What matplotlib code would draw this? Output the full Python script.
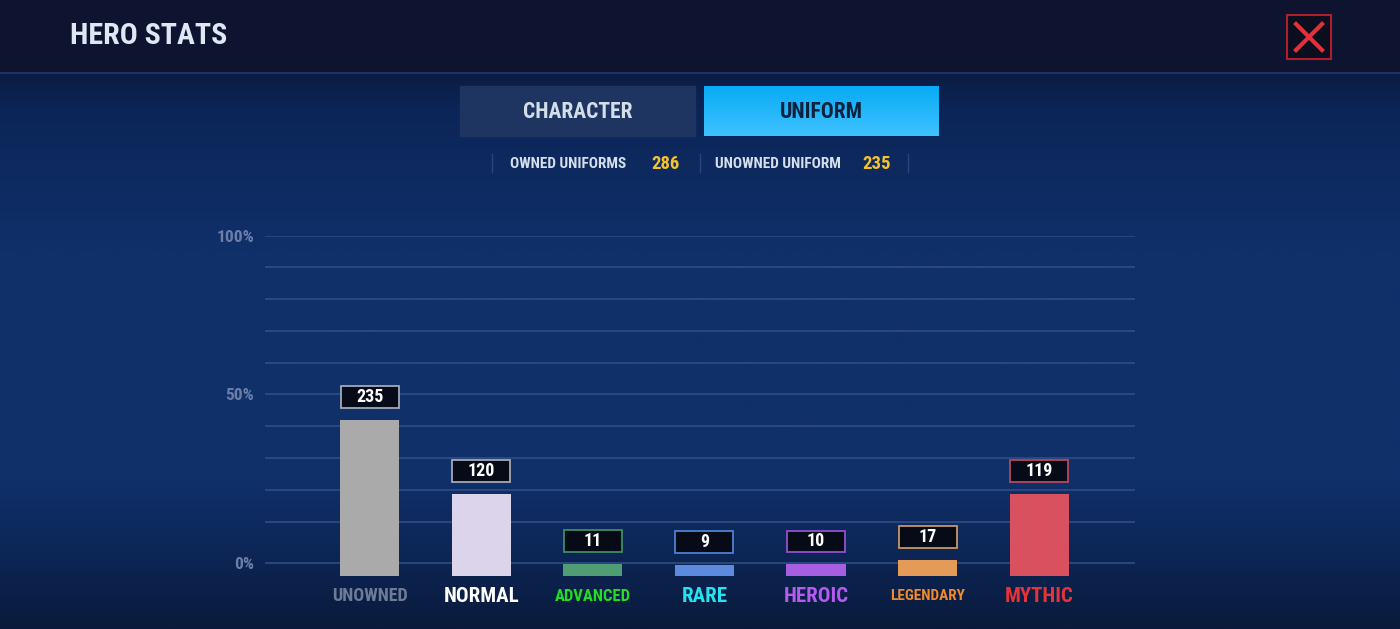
import numpy as np
import matplotlib
matplotlib.use('Agg')
import matplotlib.pyplot as plt
from matplotlib import font_manager
from matplotlib.patches import Rectangle

# data
categories = ['UNOWNED', 'NORMAL', 'ADVANCED', 'RARE', 'HEROIC', 'LEGENDARY', 'MYTHIC']
counts = [235, 120, 11, 9, 10, 17, 119]
owned_uniforms = 286
unowned_uniform = 235
y_tick_labels = ['100%', '50%', '0%']

bar_colors = ['#aaaaaa', '#dcd4ea', '#4f9e73', '#5b8ade', '#a85ee2', '#e39b57', '#d9505f']
box_edges = ['#a3a9b6', '#a3a9b6', '#3f8c66', '#4f80d0', '#9350d0', '#c89660', '#b8485c']
label_colors = ['#6d7b97', '#ffffff', '#22dd22', '#25e2f0', '#b65af2', '#f08a2c', '#e8323a']
label_sizes = [13, 15, 12, 15, 15, 11, 15]

names = {f.name for f in font_manager.fontManager.ttflist}
FONT = 'Roboto Condensed' if 'Roboto Condensed' in names else 'Roboto'
plt.rcParams['font.family'] = [FONT, 'DejaVu Sans']

W, H = 1400, 629
fig = plt.figure(figsize=(14, 6.29), dpi=100)

# background / UI chrome (pixel coords)
bg = fig.add_axes([0, 0, 1, 1])
bg.set_xlim(0, W)
bg.set_ylim(H, 0)
bg.axis('off')
stops_y = [72, 110, 250, 480, 560, 629]
stops_c = ['#0a1c44', '#0c2557', '#10306a', '#10306a', '#0c2554', '#0a1a3a']
ys = np.linspace(72, 629, 400)
rgb = np.array([matplotlib.colors.to_rgb(c) for c in stops_c])
grad = np.stack([np.interp(ys, stops_y, rgb[:, i]) for i in range(3)], axis=-1)
bg.imshow(grad[:, None, :], extent=(0, W, 629, 72), aspect='auto', zorder=0)
bg.add_patch(Rectangle((0, 0), W, 72, color='#0e1430', zorder=1))
bg.plot([0, W], [72.5, 72.5], color='#1c3567', lw=1.5, zorder=2)

fig.text(70 / W, 1 - 36 / H, 'HERO STATS', color='#dde8f5', fontsize=21.5,
         fontweight='bold', ha='left', va='center')

# close button
bg.add_patch(Rectangle((1287, 15), 44, 44, facecolor='#0a0e1e', edgecolor='#b01e2c', lw=1.5, zorder=2))
bg.plot([1296, 1322], [24, 50], color='#e4303a', lw=3, zorder=3)
bg.plot([1296, 1322], [50, 24], color='#e4303a', lw=3, zorder=3)

# tabs
bg.add_patch(Rectangle((460, 86), 235, 50, color='#1e3562', zorder=2))
bg.text(577.5, 112.5, 'CHARACTER', color='#d3deeb', fontsize=15.5, fontweight='bold',
        ha='center', va='center', zorder=3)
tab_grad = np.linspace(0, 1, 50)[:, None, None] * (np.array([0.25, 0.76, 1.0]) - np.array([0.03, 0.67, 0.96])) + np.array([0.03, 0.67, 0.96])
bg.imshow(tab_grad, extent=(704, 939, 136, 86), aspect='auto', zorder=2)
bg.text(821.5, 112.5, 'UNIFORM', color='#0b2140', fontsize=15.5, fontweight='bold',
        ha='center', va='center', zorder=3)

# stats row
for sx in [492, 700, 908]:
    bg.plot([sx, sx], [154, 172], color='#2d4574', lw=1, zorder=2)
bg.text(568, 164, 'OWNED UNIFORMS', color='#d6e0ec', fontsize=11, fontweight='bold',
        ha='center', va='center')
bg.text(666, 164, str(owned_uniforms), color='#f4c22e', fontsize=13.5, fontweight='bold',
        ha='center', va='center')
bg.text(778, 164, 'UNOWNED UNIFORM', color='#d6e0ec', fontsize=11, fontweight='bold',
        ha='center', va='center')
bg.text(877, 164, str(unowned_uniform), color='#f4c22e', fontsize=13.5, fontweight='bold',
        ha='center', va='center')

# chart axes
ax = fig.add_axes([265 / W, (H - 576) / H, 870 / W, (576 - 235.7) / H])
ax.set_facecolor('none')
ax.set_xlim(-0.94, 6.86)
ax.set_ylim(-7.15, 100)
for s in ax.spines.values():
    s.set_visible(False)

ZERO_LINE = -3.05
for g in list(range(10, 101, 10)) + [ZERO_LINE]:
    ax.axhline(g, color='#304c84', lw=1.2, zorder=1)

ax.set_xticks([])
ax.set_yticks([100, 50, ZERO_LINE], y_tick_labels)
ax.tick_params(axis='y', length=0, pad=8, labelcolor='#6a7ea8', labelsize=12.5)
for t in ax.get_yticklabels():
    t.set_fontweight('bold')

BAR_MIN, BAR_SCALE = 1.6, 0.2026
x = np.arange(len(categories))
heights = [BAR_MIN + BAR_SCALE * c for c in counts]
ax.bar(x, heights, bottom=-7.15, width=0.53, color=bar_colors, zorder=3)

box_w, box_h, gap = 0.52, 6.9, 3.8
for xi, h, c, ec, lab, lc, ls in zip(x, heights, counts, box_edges, categories, label_colors, label_sizes):
    top = -7.15 + h
    ax.add_patch(Rectangle((xi - box_w / 2, top + gap), box_w, box_h, facecolor='#070b18',
                           edgecolor=ec, lw=1.3, zorder=4))
    ax.text(xi, top + gap + box_h / 2, str(c), color='white', fontsize=13, fontweight='bold',
            ha='center', va='center', zorder=5)
    ax.text(xi, -13.6, lab, color=lc, fontsize=ls, fontweight='bold',
            ha='center', va='center', clip_on=False)

fig.savefig('out.png', dpi=100)
